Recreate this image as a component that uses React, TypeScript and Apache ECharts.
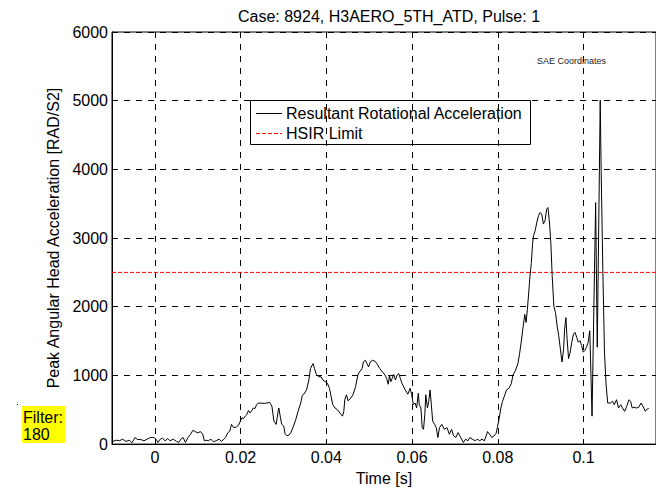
import React, { useEffect, useRef } from "react";
import * as echarts from "echarts";

const FONT = '"Liberation Sans", Arial, Helvetica, sans-serif';

const titleText = "Case: 8924, H3AERO_5TH_ATD, Pulse: 1";
const curveName = "Resultant Rotational Acceleration";
const limitName = "HSIR Limit";
const hsirLimit = 2500;
const xTickValues = [0, 0.02, 0.04, 0.06, 0.08, 0.1];

// time [s]
const timeS = [
  -0.0098, -0.00903, -0.00827, -0.0075, -0.00674, -0.00598, -0.00537, -0.00461, -0.00408, -0.00331,
  -0.00255, -0.00179, -0.00103, -0.00027, 0.00027, 0.00072, 0.00126, 0.00179, 0.0024, 0.00301,
  0.00354, 0.0043, 0.00507, 0.0056, 0.00606, 0.00659, 0.00712, 0.00773, 0.00834, 0.00888,
  0.00941, 0.01002, 0.01063, 0.01116, 0.01154, 0.01192, 0.01246, 0.01307, 0.01368, 0.01421,
  0.01497, 0.0155, 0.01611, 0.0165, 0.01703, 0.01749, 0.01787, 0.0184, 0.01901, 0.01954,
  0.01993, 0.02031, 0.02069, 0.02107, 0.02145, 0.02183, 0.02221, 0.02259, 0.02297, 0.02335,
  0.02373, 0.02411,
  0.02564, 0.02678, 0.02731, 0.02777, 0.0283, 0.02869, 0.02891, 0.0293, 0.0296, 0.03006,
  0.03036, 0.03082, 0.03135, 0.03173, 0.03234, 0.03288, 0.03341, 0.03402, 0.0344, 0.03478,
  0.03539, 0.03592, 0.0363, 0.03669, 0.03691, 0.03722, 0.03768, 0.03821, 0.03874, 0.0392,
  0.03973, 0.04027, 0.04072, 0.04103, 0.04149, 0.04202, 0.04255, 0.04301, 0.04331, 0.04377,
  0.04408, 0.0443, 0.04469, 0.04507, 0.0456, 0.04621, 0.04682, 0.04735, 0.04773, 0.04834,
  0.04865, 0.0491, 0.04949, 0.04987, 0.05025, 0.05078, 0.05139, 0.05192, 0.05246, 0.05307,
  0.05368, 0.05406, 0.05444, 0.05474, 0.05505, 0.05535, 0.05573, 0.05611, 0.0565, 0.05688,
  0.05726, 0.05764,
  0.0584, 0.05901, 0.05954, 0.05992, 0.0603, 0.06069, 0.06107, 0.06145, 0.06168, 0.06206,
  0.06236, 0.06267, 0.06297, 0.0632, 0.06358, 0.06389, 0.06419, 0.0645, 0.0648, 0.06526,
  0.06564, 0.06602, 0.0664, 0.06693, 0.06754, 0.06815, 0.06869, 0.06922, 0.06968, 0.07021,
  0.07074, 0.07135, 0.07196, 0.0725, 0.07303, 0.07349, 0.07402, 0.07478, 0.07516, 0.07577,
  0.0763, 0.07684, 0.0773, 0.0776, 0.07806, 0.07859, 0.07913, 0.07958, 0.07989, 0.08034,
  0.08072, 0.0811, 0.08164, 0.08202, 0.08263, 0.08316, 0.08354, 0.08415, 0.08469, 0.08507,
  0.08545, 0.08583, 0.08629, 0.08659, 0.0869, 0.0872, 0.0875, 0.08781, 0.08811, 0.08834,
  0.08872, 0.0891, 0.08949, 0.08987, 0.09025, 0.09063, 0.09101, 0.09139, 0.0917, 0.09208,
  0.09238, 0.09269, 0.09307, 0.09345, 0.09383, 0.09421,
  0.09497, 0.09535, 0.09558, 0.09589, 0.09611, 0.0965, 0.09688, 0.09726, 0.09764, 0.09802,
  0.0984, 0.09878, 0.09916, 0.09954, 0.09993, 0.1003, 0.10069, 0.10107, 0.10145, 0.10198,
  0.10282, 0.1032, 0.10389, 0.10411, 0.1045, 0.10488, 0.10526, 0.10564,
  0.10625, 0.10678, 0.10716, 0.1077, 0.10815, 0.10869, 0.10907, 0.1096, 0.11006, 0.11059,
  0.11097, 0.11135, 0.11173, 0.11234, 0.11288, 0.11341, 0.11387, 0.1144, 0.11463, 0.1152,
];

// resultant rotational acceleration [rad/s^2]
const accel = [
  38, 57, 48, 72, 38, 57, 19, 96, 67, 67,
  48, 72, 96, 96, 72, 24, 72, 86, 48, 81,
  48, 72, 38, 24, 72, 96, 24, 96, 144, 201,
  182, 163, 182, 144, 48, 57, 48, 72, 33, 48,
  72, 38, 72, 96, 167, 191, 287, 239, 249, 277,
  335, 383, 373, 407, 430, 488, 454, 488, 526, 517,
  574, 598,
  593, 607, 550, 335, 287, 454, 526, 383, 287, 263,
  153, 120, 134, 167, 263, 359, 478, 598, 708, 727,
  789, 933, 1100, 1148, 1172, 1100, 1014, 981, 981, 933,
  909, 885, 813, 718, 574, 526, 502, 469, 440, 407,
  478, 646, 718, 631, 660, 718, 837, 1005, 1052, 1100,
  1196, 1220, 1172, 1124, 1196, 1220, 1205, 1158, 1100, 1052,
  1005, 957, 871, 1005, 909, 957, 1014, 933, 1005, 1028,
  957, 885,
  789, 727, 813, 718, 574, 598, 526, 741, 574, 526,
  239, 215, 430, 718, 526, 622, 789, 574, 335, 287,
  239, 96, 239, 287, 215, 239, 144, 215, 120, 96,
  167, 96, 24, 72, 48, 96, 72, 48, 72, 48,
  72, 48, 120, 182, 144, 96, 120, 153, 239, 383,
  526, 622, 718, 789, 813, 885, 1005, 1076, 1172, 1315,
  1483, 1674, 1889, 1770, 1961, 2200, 2440, 2631, 2918, 3037,
  3109, 3229, 3324, 3372, 3348, 3205, 3253, 3420, 3444, 3205,
  2918, 2440, 2009, 1913, 1722, 1578,
  1196, 1387, 1674, 1842, 1578, 1244, 1339, 1483, 1602, 1626,
  1555, 1483, 1507, 1435, 1339, 1363, 1411, 1483, 1650, 407,
  3516, 1411, 5008, 3970, 2535, 1339, 861, 598,
  598, 622, 574, 646, 526, 574, 526, 478, 550, 646,
  622, 526, 536, 526, 536, 598, 550, 478, 502, 520,
];

const X_MIN = -0.01;
const X_MAX = 0.1169;

export default function App() {
  const ref = useRef<HTMLDivElement>(null);

  useEffect(() => {
    if (!ref.current) return;
    const chart = echarts.init(ref.current, undefined, { renderer: "svg" });

    const curve = timeS.map((t, i) => [t, accel[i]]);
    const limit = [
      [X_MIN, hsirLimit],
      [X_MAX, hsirLimit],
    ];

    const gridDash = { color: "#000", width: 1, type: [6, 6] as number[] };
    const labelStyle = { fontSize: 16, color: "#000", fontFamily: FONT };

    chart.setOption({
      animation: false,
      backgroundColor: "#fff",
      grid: {
        left: 112,
        top: 32,
        right: -10,
        bottom: 41,
        show: true,
        borderColor: "#000",
        borderWidth: 1,
        backgroundColor: "transparent",
      },
      xAxis: {
        type: "value",
        min: X_MIN,
        max: X_MAX,
        name: "Time [s]",
        nameLocation: "middle",
        nameGap: 22,
        nameTextStyle: labelStyle,
        axisLine: { show: true, onZero: false, lineStyle: { color: "#000", width: 1 } },
        axisTick: { show: true, inside: true, length: 5, customValues: xTickValues, lineStyle: { color: "#000" } },
        axisLabel: {
          ...labelStyle,
          margin: 5,
          customValues: xTickValues,
          formatter: (v: number) => String(Math.round(v * 100) / 100),
        },
        splitLine: { show: true, lineStyle: gridDash },
      },
      yAxis: {
        type: "value",
        min: 0,
        max: 6000,
        interval: 1000,
        name: "Peak Angular Head Acceleration [RAD/S2]",
        nameLocation: "middle",
        nameGap: 41,
        nameTextStyle: labelStyle,
        axisLine: { show: true, onZero: false, lineStyle: { color: "#000", width: 1 } },
        axisTick: { show: true, inside: true, length: 5, lineStyle: { color: "#000" } },
        axisLabel: { ...labelStyle, margin: 4, formatter: (v: number) => String(v) },
        splitLine: { show: true, lineStyle: gridDash },
      },
      series: [
        {
          name: limitName,
          type: "line",
          data: limit,
          symbol: "none",
          lineStyle: { color: "#ff0000", width: 1, type: [4, 2] },
          z: 3,
        },
        {
          name: curveName,
          type: "line",
          data: curve,
          symbol: "none",
          clip: true,
          lineStyle: { color: "#000", width: 1 },
          z: 4,
        },
      ],
      graphic: [
        {
          type: "text",
          x: 389,
          y: 16,
          style: {
            text: titleText,
            fontSize: 16,
            fontFamily: FONT,
            fill: "#000",
            align: "center",
            verticalAlign: "middle",
          },
        },
        {
          type: "text",
          x: 537,
          y: 61,
          style: {
            text: "SAE Coordinates",
            fontSize: 9,
            fontFamily: FONT,
            fill: "#222",
            align: "left",
            verticalAlign: "middle",
          },
          z: 10,
        },
        {
          type: "group",
          z: 20,
          children: [
            {
              type: "rect",
              shape: { x: 250.5, y: 100.5, width: 280, height: 44 },
              style: { fill: "#fff", stroke: "#000", lineWidth: 1 },
            },
            {
              type: "line",
              shape: { x1: 256, y1: 113.5, x2: 282, y2: 113.5 },
              style: { stroke: "#000", lineWidth: 1 },
            },
            {
              type: "line",
              shape: { x1: 256, y1: 133.5, x2: 282, y2: 133.5 },
              style: { stroke: "#ff0000", lineWidth: 1, lineDash: [4, 2] },
            },
            {
              type: "text",
              x: 286,
              y: 113,
              style: { text: curveName, fontSize: 16, fontFamily: FONT, fill: "#000", verticalAlign: "middle" },
            },
            {
              type: "text",
              x: 286,
              y: 133,
              style: { text: limitName, fontSize: 16, fontFamily: FONT, fill: "#000", verticalAlign: "middle" },
            },
          ],
        },
        {
          type: "group",
          z: 20,
          children: [
            { type: "rect", shape: { x: 17, y: 404, width: 1, height: 1 }, style: { fill: "#000" } },
            {
              type: "rect",
              shape: { x: 22, y: 406, width: 43, height: 37 },
              style: { fill: "#ffff00" },
            },
            {
              type: "text",
              x: 23,
              y: 417,
              style: { text: "Filter:", fontSize: 16, fontFamily: FONT, fill: "#000", verticalAlign: "middle" },
            },
            {
              type: "text",
              x: 23,
              y: 434,
              style: { text: "180", fontSize: 16, fontFamily: FONT, fill: "#000", verticalAlign: "middle" },
            },
          ],
        },
      ],
    });

    return () => chart.dispose();
  }, []);

  return (
    <div style={{ position: "fixed", left: 0, top: 0, width: 656, height: 491, overflow: "hidden", background: "#fff" }}>
      <div ref={ref} style={{ width: 656, height: 491 }} />
    </div>
  );
}
